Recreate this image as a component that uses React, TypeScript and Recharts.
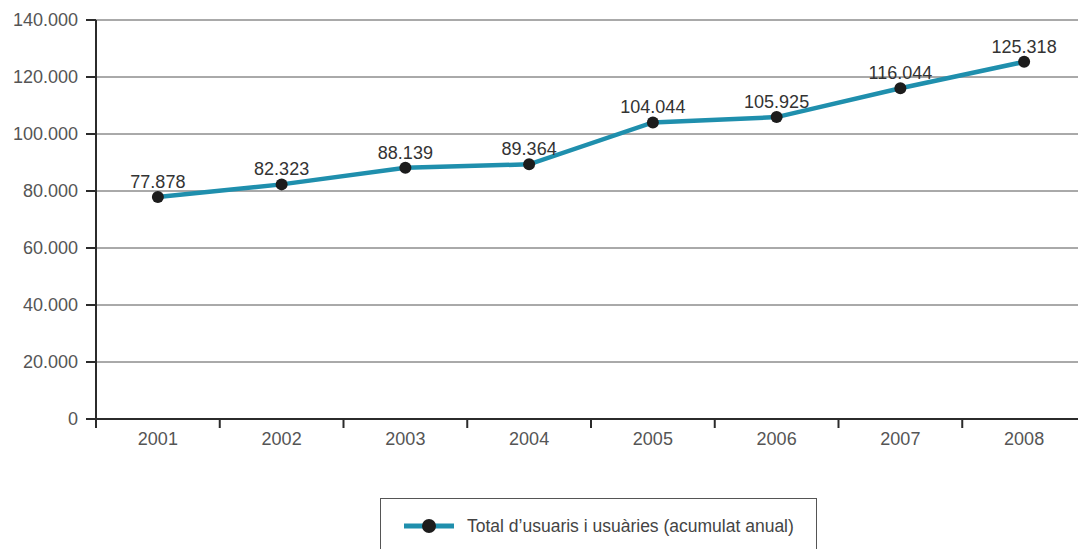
import React from 'react';
import { LineChart, Line, XAxis, YAxis, CartesianGrid, LabelList } from 'recharts';

// Accumulated yearly total of users
const years = ['2001', '2002', '2003', '2004', '2005', '2006', '2007', '2008'];
const users = [77878, 82323, 88139, 89364, 104044, 105925, 116044, 125318];
const yTicks = [0, 20000, 40000, 60000, 80000, 100000, 120000, 140000];
const seriesName = 'Total d\u2019usuaris i usuàries (acumulat anual)';

const LINE_COLOR = '#1f8fad';
const DOT_COLOR = '#1c1c1c';
const AXIS_COLOR = '#2b2b2b';
const FONT = '"Liberation Sans", Arial, Helvetica, sans-serif';

// Each year sits in the middle of its band; band edges are whole numbers
const data = years.map((year, i) => ({ year, pos: i + 0.5, users: users[i] }));
const xTicks: number[] = [];
for (let i = 0; i <= years.length * 2; i++) xTicks.push(i / 2);

const fmt = (v: number) => String(v).replace(/\B(?=(\d{3})+(?!\d))/g, '.');

// Band edges get a short tick mark, band centres get the year label
const XTick = (props: any) => {
  const { x, y, payload } = props;
  const v = payload.value as number;
  if (Number.isInteger(v)) {
    return <line x1={x} x2={x} y1={y} y2={y + 9} stroke={AXIS_COLOR} strokeWidth={2} />;
  }
  return (
    <text x={x} y={y + 26} textAnchor="middle" fill="#555" fontSize={18} fontFamily={FONT}>
      {years[Math.floor(v)]}
    </text>
  );
};

const Dot = (props: any) => {
  const { cx, cy } = props;
  if (cx == null || cy == null) return null;
  return <circle cx={cx} cy={cy} r={6} fill={DOT_COLOR} />;
};

export default function App() {
  return (
    <div
      style={{
        position: 'fixed',
        left: 0,
        top: 0,
        width: 1078,
        height: 549,
        overflow: 'hidden',
        background: '#fff',
        fontFamily: FONT,
      }}
    >
      <LineChart width={1090} height={549} data={data} margin={{ top: 20, right: 4, left: 0, bottom: 100 }}>
        <CartesianGrid vertical={false} stroke="#555" strokeWidth={1} />
        <XAxis
          dataKey="pos"
          type="number"
          domain={[0, years.length]}
          ticks={xTicks}
          interval={0}
          height={30}
          tickLine={false}
          tickSize={0}
          tickMargin={0}
          tick={<XTick />}
          axisLine={{ stroke: AXIS_COLOR, strokeWidth: 2 }}
        />
        <YAxis
          width={96}
          domain={[0, 140000]}
          ticks={yTicks}
          interval={0}
          tickFormatter={fmt}
          tickSize={10}
          tickMargin={8}
          tickLine={{ stroke: AXIS_COLOR, strokeWidth: 2 }}
          axisLine={{ stroke: AXIS_COLOR, strokeWidth: 2 }}
          tick={{ fill: '#555', fontSize: 18, fontFamily: FONT }}
        />
        <Line
          type="linear"
          dataKey="users"
          name={seriesName}
          stroke={LINE_COLOR}
          strokeWidth={4.5}
          dot={<Dot />}
          activeDot={false}
          isAnimationActive={false}
        >
          <LabelList
            dataKey="users"
            position="top"
            offset={9}
            formatter={(v: any) => fmt(Number(v))}
            fill="#333"
            fontSize={18}
            fontFamily={FONT}
          />
        </Line>
      </LineChart>
      <div
        style={{
          position: 'absolute',
          left: 380,
          top: 498,
          width: 437,
          height: 70,
          border: '1.5px solid #555',
          boxSizing: 'border-box',
        }}
      >
        <svg width={52} height={20} style={{ position: 'absolute', left: 22, top: 17 }}>
          <line x1={1} x2={51} y1={10} y2={10} stroke={LINE_COLOR} strokeWidth={5} />
          <circle cx={26} cy={10} r={7} fill={DOT_COLOR} />
        </svg>
        <span
          style={{
            position: 'absolute',
            left: 86,
            top: 16,
            fontSize: 17.5,
            color: '#444',
            whiteSpace: 'nowrap',
            lineHeight: '22px',
          }}
        >
          {seriesName}
        </span>
      </div>
    </div>
  );
}
